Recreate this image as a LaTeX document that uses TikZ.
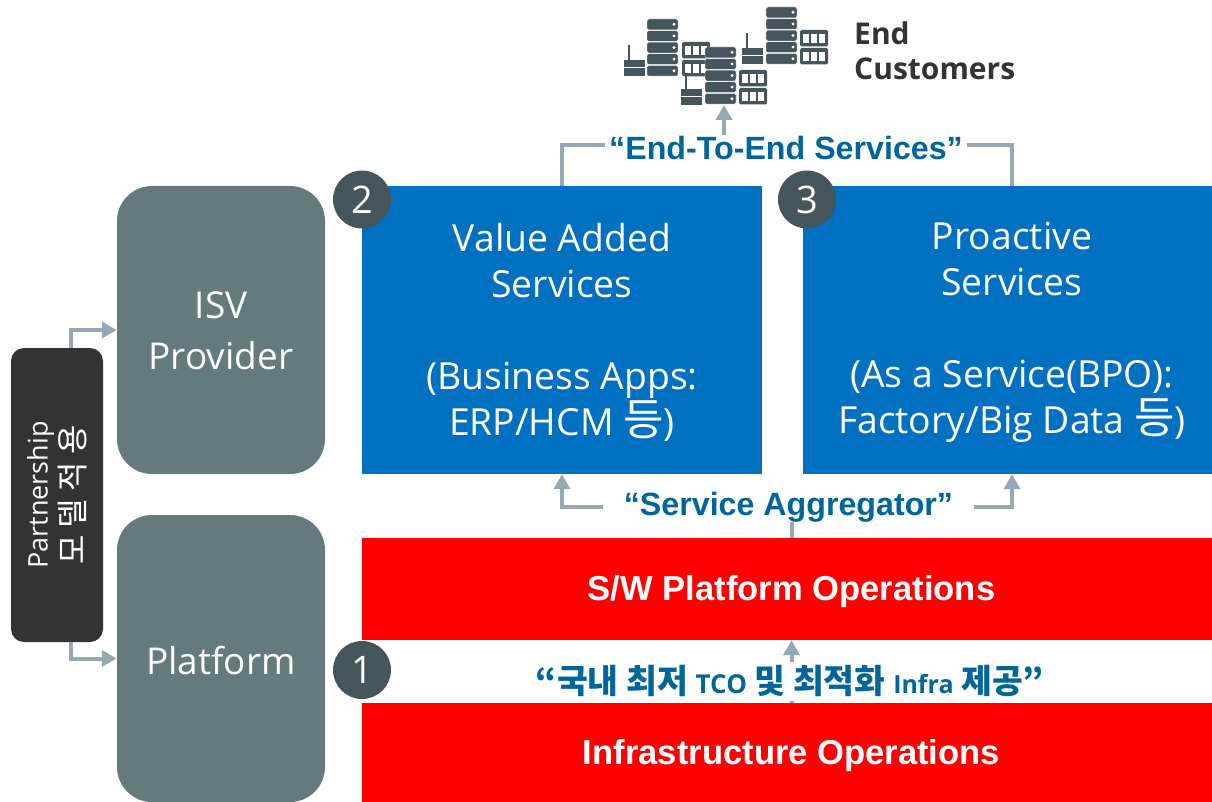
\documentclass[tikz,border=0pt]{standalone}
\usepackage{fontspec}
\setmainfont{Open Sans}
\newfontfamily\arialf{Liberation Sans}
\newfontfamily\kr{Noto Sans CJK KR}
\usetikzlibrary{arrows.meta}
\definecolor{slate}{HTML}{647A7D}
\definecolor{darkbox}{HTML}{333333}
\definecolor{svcblue}{HTML}{0070C0}
\definecolor{opsred}{HTML}{FF0000}
\definecolor{icon}{HTML}{44555C}
\definecolor{conn}{HTML}{94A9B5}
\definecolor{quote}{HTML}{00659B}
\newcommand{\bigdeung}{{\kr\fontsize{44}{46}\selectfont 등}}
\newcommand{\lowerline}[1]{\rule{0pt}{#1pt}}
\tikzset{
  x=1pt,y=-1pt,
  rbox/.style={fill=slate,rounded corners=35pt,text=white,align=center,inner sep=0pt,font=\fontsize{37}{51}\selectfont},
  bluebox/.style={fill=svcblue,text=white,align=center,inner sep=0pt,minimum height=288pt,font=\fontsize{37.3}{46}\selectfont},
  redbox/.style={fill=opsred,text=white,inner sep=0pt,minimum width=859pt,font=\arialf\bfseries\fontsize{34.6}{40}\selectfont},
  badge/.style={circle,fill=icon,text=white,minimum size=58pt,inner sep=0pt,font=\fontsize{38}{42}\selectfont},
  quotelabel/.style={fill=white,text=quote,inner sep=0pt,font=\arialf\bfseries\fontsize{32.2}{38}\selectfont},
  link/.style={draw=conn,line width=4pt},
  linkarrow/.style={link,-{Triangle[length=15pt,width=16pt]}},
  srvstack/.pic={
    \foreach \i in {0,...,4}{
      \fill[icon,draw=white,line width=.4pt,rounded corners=1.5pt] (0,{\i*11.6}) rectangle (31,{\i*11.6+10.8});
      \fill[white] (27,{\i*11.6+5.3}) circle (1.6pt);
    }},
  srvgrid/.pic={
    \foreach \r in {0,18}{
      \fill[icon,rounded corners=1.5pt] (0,\r) rectangle (28,{\r+16.5});
      \foreach \c in {3,11,19}{\fill[white] (\c,{\r+4}) rectangle ({\c+6},{\r+13});}
    }},
  srvant/.pic={
    \fill[icon] (4.2,0) rectangle (5.8,15);
    \fill[icon] (0,15) rectangle (20.5,22);
    \fill[icon] (0,23.5) rectangle (20.5,31);
  },
}
\begin{document}
\begin{tikzpicture}
\path[use as bounding box,clip] (0,0) rectangle (1212,802);
% end customers icons
\pic at (624,45) {srvant};
\pic at (647,19) {srvstack};
\pic at (682,42) {srvgrid};
\pic at (681,74) {srvant};
\pic at (705,47) {srvstack};
\pic at (739,70) {srvgrid};
\pic at (742,33) {srvant};
\pic at (766,7) {srvstack};
\pic at (800,30) {srvgrid};
\coordinate (customers) at (724,105);
\node[anchor=west,align=left,text=darkbox,inner sep=0pt,font=\bfseries\fontsize{30}{35}\selectfont] (endc) at (854,50.5) {End\\Customers};
% boxes
\node[rbox,minimum width=208pt,minimum height=288pt] (isv) at (221,330) {\lowerline{29}ISV\\Provider};
\node[rbox,minimum width=208pt,minimum height=287pt] (plat) at (221,658.5) {\lowerline{32}Platform};
\node[fill=darkbox,rounded corners=13pt,minimum width=92pt,minimum height=294pt,inner sep=0pt] (partner) at (57,495) {};
\node[rotate=90,text=white,align=center,inner sep=0pt,font=\fontsize{27}{37}\selectfont] (partnertext) at (57,495) {Partnership\\{\kr\fontsize{32}{37}\selectfont 모 델 적 용}};
\node[bluebox,minimum width=400pt] (vas) at (562,330) {\lowerline{32}Value Added\\Services\\[46pt](Business Apps:\\ERP/HCM \bigdeung)};
\node[bluebox,minimum width=418pt] (pro) at (1012,330) {\lowerline{32}Proactive\\Services\\[46pt](As a Service(BPO):\\Factory/Big Data \bigdeung)};
\node[redbox,minimum height=102pt] (sw) at (791.5,589) {\lowerline{31}S/W Platform Operations};
\node[redbox,minimum height=99pt] (infra) at (791.5,752.5) {\lowerline{31}Infrastructure Operations};
% connectors
\coordinate (e2eL) at (605,145);
\coordinate (e2eR) at (967,145);
\coordinate (e2eT) at (724,135);
\draw[link] (vas.north) |- (e2eL);
\draw[link] (pro.north) |- (e2eR);
\draw[linkarrow] (e2eT) -- (customers);
\draw[linkarrow] (infra.north) -- (sw.south);
\draw[link] (sw.north) -- ++(0,-20);
\node[quotelabel,minimum width=371pt] (sa) at (788.5,507) {“Service Aggregator”};
\draw[linkarrow] (sa.west) -| (vas.south);
\draw[linkarrow] (sa.east) -| (pro.south);
\node[quotelabel] (e2e) at (786,148) {“End-To-End Services”};
\node[quotelabel,font=\kr\bfseries\fontsize{33.5}{38}\selectfont,minimum height=39pt] (tco) at (790,681) {“국내 최저 {\rmfamily\bfseries\fontsize{26}{32}\selectfont TCO} 및 최적화 {\rmfamily\bfseries\fontsize{25}{32}\selectfont Infra} 제공”};
\draw[linkarrow] ([xshift=14pt]partner.north) |- (isv.west);
\draw[linkarrow] ([xshift=14pt]partner.south) |- (plat.west);
% badges
\node[badge] (b2) at (362,199.5) {2};
\node[badge] (b3) at (807,199.5) {3};
\node[badge] (b1) at (362,670) {1};
\end{tikzpicture}
\end{document}
